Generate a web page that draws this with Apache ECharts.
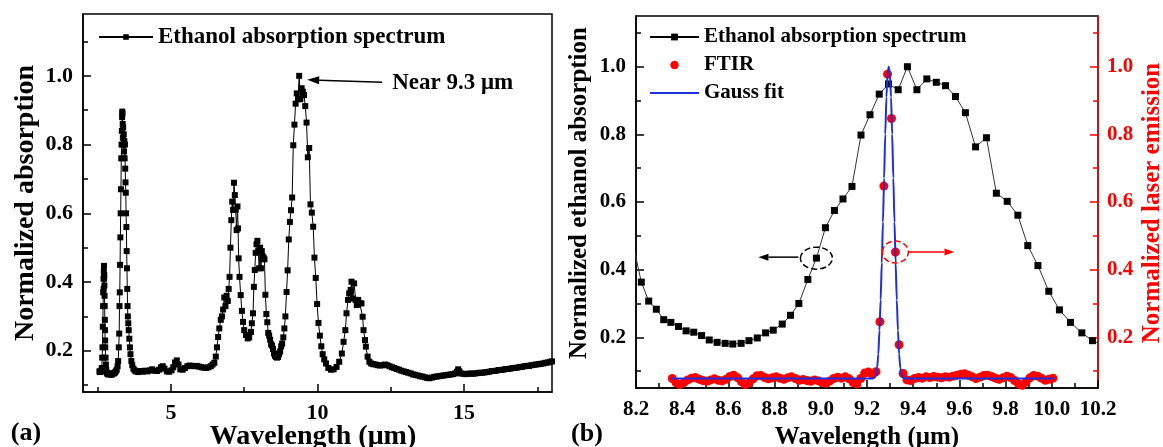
<!DOCTYPE html>
<html>
<head>
<meta charset="utf-8">
<script src="https://cdn.jsdelivr.net/npm/echarts@6/dist/echarts.min.js"></script>
<style>
  html, body { margin: 0; padding: 0; background: #fff; }
  #chart { width: 1163px; height: 447px; }
</style>
</head>
<body>
<div id="chart"></div>
<script>
// ---- Ethanol absorption spectrum (wavelength in µm, normalized absorption) ----
// 2.5–3.2 µm: O–H band and baseline
const seg1Wl  = [2.56,2.58,2.60,2.62,2.64,2.655,2.665,2.675,2.685,2.69,2.70,2.705,2.71,2.715,2.72,2.725,2.73,2.735,2.74,2.745,2.75,2.755,2.76,2.77,2.78,2.79,2.80,
                 2.82,2.85,2.88,2.91,2.94,2.97,3.00,3.03,3.06,3.09,3.12,3.15,3.18];
const seg1Abs = [0.140,0.138,0.140,0.142,0.150,0.180,0.210,0.270,0.330,0.370,0.410,0.380,0.430,0.447,0.410,0.420,0.390,0.360,0.330,0.290,0.260,0.230,0.210,0.180,0.160,0.145,0.138,
                 0.134,0.132,0.131,0.133,0.132,0.130,0.133,0.135,0.134,0.137,0.140,0.145,0.155];
// 3.2–3.8 µm: C–H stretch band
const seg2Wl  = [3.20,3.22,3.235,3.245,3.255,3.265,3.275,3.285,3.295,3.305,
                 3.315,3.325,3.335,3.34,3.345,3.355,3.36,3.37,3.38,3.39,
                 3.40,3.41,3.42,3.43,3.44,3.45,3.46,3.47,3.48,3.49,
                 3.50,3.51,3.52,3.53,3.545,3.56,3.58,3.60,3.62,3.65,
                 3.68,3.72,3.76];
const seg2Abs = [0.170,0.210,0.250,0.330,0.370,0.450,0.530,0.600,0.670,0.760,
                 0.800,0.840,0.880,0.896,0.890,0.860,0.820,0.850,0.800,0.830,
                 0.780,0.810,0.760,0.800,0.730,0.690,0.660,0.600,0.560,0.490,
                 0.440,0.380,0.330,0.300,0.280,0.260,0.235,0.210,0.190,0.170,
                 0.158,0.148,0.143];
// 3.8–6.5 µm: flat region
const seg3Wl  = [3.80,3.88,3.96,4.04,4.12,4.20,4.28,4.36,4.44,4.52,
                 4.60,4.66,4.72,4.78,4.86,4.94,5.02,5.08,5.14,5.20,
                 5.26,5.32,5.40,5.48,5.56,5.64,5.72,5.80,5.88,5.96,
                 6.04,6.12,6.20,6.28,6.36,6.42,6.48];
const seg3Abs = [0.140,0.138,0.141,0.139,0.142,0.140,0.143,0.146,0.142,0.141,
                 0.145,0.152,0.155,0.148,0.140,0.139,0.143,0.152,0.166,0.172,
                 0.160,0.146,0.145,0.150,0.155,0.157,0.156,0.155,0.156,0.154,
                 0.152,0.151,0.150,0.152,0.155,0.160,0.165];
// 6.5–8.2 µm: bending bands
const seg4Wl  = [6.53,6.57,6.61,6.65,6.70,6.74,6.78,6.82,6.86,6.90,
                 6.94,6.97,7.00,7.03,7.06,7.09,7.12,7.15,7.18,7.21,
                 7.24,7.27,7.29,7.31,7.34,7.38,7.42,7.46,7.50,7.56,
                 7.62,7.67,7.73,7.76,7.80,7.83,7.86,7.89,7.92,7.95,
                 7.98,8.01,8.04,8.07,8.10,8.13,8.16,8.19];
const seg4Abs = [0.183,0.210,0.240,0.265,0.290,0.300,0.320,0.355,0.330,0.360,
                 0.345,0.380,0.415,0.500,0.580,0.634,0.610,0.689,0.653,0.610,
                 0.551,0.620,0.556,0.469,0.415,0.362,0.316,0.284,0.260,0.246,
                 0.236,0.239,0.255,0.280,0.309,0.386,0.435,0.485,0.510,0.520,
                 0.490,0.440,0.500,0.440,0.490,0.475,0.470,0.466];
// 8.2–10.2 µm: C–O stretch band around 9.3 µm
const seg5Wl  = [8.223,8.255,8.288,8.320,8.351,8.384,8.417,8.450,8.484,8.517,
                 8.551,8.586,8.619,8.655,8.689,8.725,8.761,8.794,8.833,8.869,
                 8.905,8.944,8.981,9.020,9.059,9.096,9.135,9.174,9.213,9.253,
                 9.293,9.335,9.375,9.416,9.459,9.500,9.540,9.583,9.626,9.670,
                 9.717,9.760,9.807,9.853,9.896,9.940,9.987,10.033,10.081,10.130,
                 10.176];
const seg5Abs = [0.363,0.307,0.283,0.252,0.244,0.232,0.219,0.215,0.205,0.192,
                 0.185,0.182,0.180,0.182,0.190,0.198,0.213,0.221,0.239,0.265,
                 0.300,0.371,0.434,0.524,0.575,0.609,0.646,0.798,0.858,0.919,
                 0.949,0.932,1.000,0.932,0.964,0.954,0.944,0.912,0.864,0.763,
                 0.790,0.626,0.602,0.561,0.471,0.412,0.336,0.281,0.244,0.213,
                 0.190];
// 10.2–12.1 µm
const seg6Wl  = [10.23,10.29,10.37,10.46,10.55,10.65,10.74,10.83,10.89,10.95,
                 10.99,11.04,11.08,11.13,11.16,11.21,11.25,11.30,11.34,11.39,
                 11.44,11.50,11.54,11.57,11.62,11.65,11.71,11.77,11.83,11.90,
                 11.98,12.06];
const seg6Abs = [0.175,0.163,0.150,0.145,0.146,0.153,0.168,0.192,0.226,0.260,
                 0.309,0.348,0.367,0.377,0.401,0.352,0.396,0.348,0.333,0.348,
                 0.338,0.338,0.299,0.260,0.231,0.212,0.183,0.168,0.163,0.161,
                 0.160,0.158];
// 12.1–18 µm: long-wave tail
const seg7Wl  = [12.14,12.22,12.30,12.38,12.46,12.54,12.62,12.70,12.78,12.86,
                 12.94,13.02,13.10,13.18,13.26,13.34,13.42,13.50,13.58,13.66,
                 13.74,13.82,13.90,13.98,14.06,14.14,14.22,14.30,14.38,14.46,
                 14.54,14.62,14.70,14.76,14.80,14.84,14.90,14.98,15.06,15.14,
                 15.22,15.30,15.38,15.46,15.54,15.62,15.70,15.78,15.86,15.94,
                 16.02,16.10,16.18,16.26,16.34,16.42,16.50,16.58,16.66,16.74,
                 16.82,16.90,16.98,17.06,17.14,17.22,17.30,17.38,17.46,17.54,
                 17.62,17.70,17.78,17.86,17.94,18.00];
const seg7Abs = [0.157,0.158,0.160,0.158,0.155,0.152,0.150,0.147,0.145,0.142,
                 0.140,0.138,0.136,0.134,0.131,0.130,0.128,0.126,0.125,0.123,
                 0.121,0.120,0.122,0.124,0.125,0.126,0.127,0.128,0.129,0.130,
                 0.131,0.132,0.134,0.139,0.146,0.140,0.134,0.133,0.132,0.133,
                 0.134,0.133,0.134,0.135,0.136,0.136,0.137,0.138,0.139,0.141,
                 0.141,0.142,0.144,0.144,0.145,0.147,0.147,0.148,0.150,0.150,
                 0.151,0.153,0.153,0.155,0.156,0.156,0.158,0.159,0.160,0.161,
                 0.162,0.163,0.165,0.166,0.168,0.169];

// ---- FTIR laser emission spectrum (normalized) ----
const ftirWl = [8.357,8.374,8.390,8.407,8.424,8.440,8.457,8.474,8.490,8.507,
                8.524,8.540,8.557,8.573,8.590,8.607,8.623,8.640,8.657,8.673,
                8.690,8.707,8.723,8.740,8.757,8.773,8.790,8.807,8.823,8.840,
                8.857,8.873,8.890,8.906,8.923,8.940,8.956,8.973,8.990,9.006,
                9.023,9.040,9.056,9.073,9.090,9.106,9.123,9.140,9.156,9.173,
                9.190,9.206,9.223,9.239,9.256,9.273,9.289,9.306,9.323,9.339,
                9.356,9.373,9.389,9.406,9.423,9.439,9.456,9.473,9.489,9.506,
                9.523,9.539,9.556,9.572,9.589,9.606,9.622,9.639,9.656,9.672,
                9.689,9.706,9.722,9.739,9.756,9.772,9.789,9.806,9.822,9.839,
                9.856,9.872,9.889,9.905,9.922,9.939,9.955,9.972,9.989,10.005];
const ftirVal = [0.078,0.065,0.060,0.066,0.074,0.079,0.081,0.076,0.072,0.070,
                 0.074,0.077,0.073,0.071,0.076,0.084,0.088,0.080,0.068,0.060,
                 0.066,0.077,0.086,0.087,0.081,0.077,0.080,0.083,0.079,0.076,
                 0.080,0.083,0.078,0.073,0.075,0.072,0.070,0.074,0.071,0.066,
                 0.064,0.071,0.078,0.082,0.079,0.083,0.077,0.066,0.062,0.078,
                 0.094,0.097,0.090,0.098,0.246,0.647,0.978,0.847,0.452,0.178,
                 0.093,0.074,0.072,0.078,0.081,0.079,0.083,0.081,0.084,0.082,
                 0.080,0.083,0.082,0.085,0.088,0.091,0.092,0.088,0.083,0.078,
                 0.082,0.087,0.088,0.084,0.079,0.076,0.080,0.085,0.081,0.072,
                 0.062,0.058,0.068,0.080,0.087,0.085,0.079,0.073,0.076,0.079];

// ---- Gaussian fit of the emission line ----
const gaussWl  = [8.350,9.224,9.234,9.239,9.244,9.249,9.254,9.259,9.264,9.269,
                  9.274,9.279,9.284,9.289,9.294,9.299,9.304,9.309,9.314,9.319,
                  9.324,9.329,9.334,9.339,9.344,9.349,9.354,9.364,10.010];
const gaussVal = [0.078,0.078,0.082,0.090,0.110,0.150,0.220,0.310,0.420,0.540,
                  0.670,0.800,0.910,0.980,1.000,0.980,0.910,0.800,0.670,0.540,
                  0.420,0.310,0.220,0.150,0.110,0.090,0.082,0.078,0.078];

// ---- tick positions ----
const aXLabels  = [5, 10, 15];
const aXMinor   = [2.5, 7.5, 12.5, 17.5];
const aYLabels  = [0.2, 0.4, 0.6, 0.8, 1.0];
const aYMinor   = [0.1, 0.3, 0.5, 0.7, 0.9, 1.1];
const bXLabels  = [8.2, 8.4, 8.6, 8.8, 9.0, 9.2, 9.4, 9.6, 9.8, 10.0, 10.2];
const bXMinor   = [8.3, 8.5, 8.7, 8.9, 9.1, 9.3, 9.5, 9.7, 9.9, 10.1];
const bYLabels  = [0.2, 0.4, 0.6, 0.8, 1.0];
const bYMinor   = [0.1, 0.3, 0.5, 0.7, 0.9, 1.1];

const absWl  = [].concat(seg1Wl, seg2Wl, seg3Wl, seg4Wl, seg5Wl, seg6Wl, seg7Wl);
const absVal = [].concat(seg1Abs, seg2Abs, seg3Abs, seg4Abs, seg5Abs, seg6Abs, seg7Abs);
const pairs = (xs, ys) => xs.map((x, i) => [x, ys[i]]);

const FONT = '"Liberation Serif","Times New Roman",serif';
const RED = '#ff0000';
const BLUE = '#1f2fe0';

function mainAxis(grid, pos, min, max, ticks, color, fontSize, margin, digits) {
  return {
    type: 'value', gridIndex: grid, position: pos, min: min, max: max,
    axisLine: { show: true, onZero: false, lineStyle: { color: color, width: 1.5 } },
    axisTick: { show: true, inside: true, length: 8, customValues: ticks, lineStyle: { color: color, width: 1.5 } },
    axisLabel: {
      show: true, customValues: ticks, margin: margin, showMinLabel: true, showMaxLabel: true,
      formatter: v => Number(v).toFixed(digits),
      color: color, fontFamily: FONT, fontWeight: 'bold', fontSize: fontSize
    },
    splitLine: { show: false }
  };
}
function minorAxis(grid, pos, min, max, ticks, color) {
  return {
    type: 'value', gridIndex: grid, position: pos, min: min, max: max,
    axisLine: { show: false, onZero: false },
    axisTick: { show: true, inside: true, length: 5, customValues: ticks, lineStyle: { color: color, width: 1.5 } },
    axisLabel: { show: false },
    splitLine: { show: false }
  };
}

const chart = echarts.init(document.getElementById('chart'), null, { renderer: 'canvas' });

const option = {
  animation: false,
  backgroundColor: '#fff',
  grid: [
    { left: 83, top: 14, width: 469, height: 378, show: true, borderColor: '#000', borderWidth: 1.5,
      containLabel: false, outerBoundsMode: 'none' },
    { left: 636, top: 16, width: 462, height: 372, show: true, borderColor: '#000', borderWidth: 1.5,
      containLabel: false, outerBoundsMode: 'none' }
  ],
  xAxis: [
    mainAxis(0, 'bottom', 2, 18, aXLabels, '#000', 22, 10, 0),
    minorAxis(0, 'bottom', 2, 18, aXMinor, '#000'),
    mainAxis(1, 'bottom', 8.2, 10.2, bXLabels, '#000', 21, 11, 1),
    minorAxis(1, 'bottom', 8.2, 10.2, bXMinor, '#000')
  ],
  yAxis: [
    mainAxis(0, 'left', 0.08, 1.18, aYLabels, '#000', 22, 10, 1),
    minorAxis(0, 'left', 0.08, 1.18, aYMinor, '#000'),
    mainAxis(1, 'left', 0.05, 1.15, bYLabels, '#000', 21, 10, 1),
    minorAxis(1, 'left', 0.05, 1.15, bYMinor, '#000'),
    mainAxis(1, 'right', 0.05, 1.15, bYLabels, RED, 21, 9, 1),
    minorAxis(1, 'right', 0.05, 1.15, bYMinor, RED)
  ],
  legend: [
    {
      data: ['Ethanol absorption spectrum'],
      left: 98, top: 24, orient: 'vertical', padding: 0,
      itemWidth: 54, itemHeight: 7, itemGap: 0, selectedMode: false,
      textStyle: { fontFamily: FONT, fontWeight: 'bold', fontSize: 23, color: '#000', lineHeight: 26 }
    },
    {
      data: ['Ethanol absorption spectrum', 'FTIR', { name: 'Gauss fit', itemStyle: { opacity: 0 } }],
      left: 649, top: 26, orient: 'vertical', padding: 0,
      itemWidth: 49, itemHeight: 8.5, itemGap: 6, selectedMode: false,
      textStyle: { fontFamily: FONT, fontWeight: 'bold', fontSize: 21, color: '#000', lineHeight: 22 }
    }
  ],
  series: [
    {
      name: 'Ethanol absorption spectrum', type: 'line', xAxisIndex: 0, yAxisIndex: 0,
      data: pairs(absWl, absVal), symbol: 'rect', symbolSize: 6, showAllSymbol: true,
      itemStyle: { color: '#000' }, lineStyle: { color: '#000', width: 1 }, clip: true, z: 3
    },
    {
      name: 'Ethanol absorption spectrum', type: 'line', xAxisIndex: 2, yAxisIndex: 2,
      data: pairs(absWl, absVal), symbol: 'rect', symbolSize: 7, showAllSymbol: true,
      itemStyle: { color: '#000' }, lineStyle: { color: '#333', width: 1 }, clip: true, z: 3
    },
    {
      name: 'FTIR', type: 'scatter', xAxisIndex: 2, yAxisIndex: 4,
      data: pairs(ftirWl, ftirVal), symbol: 'circle', symbolSize: 9,
      itemStyle: { color: RED, opacity: 1 }, z: 4
    },
    {
      name: 'Gauss fit', type: 'line', xAxisIndex: 2, yAxisIndex: 4,
      data: pairs(gaussWl, gaussVal), symbol: 'none', showSymbol: false,
      smooth: 0.25, smoothMonotone: 'x',
      itemStyle: { color: BLUE }, lineStyle: { color: BLUE, width: 2 }, z: 5
    }
  ]
};
chart.setOption(option);

// ---- annotations anchored on the data ----
function arrow(x1, y1, x2, y2, color, head, half) {
  const dx = x2 - x1, dy = y2 - y1, L = Math.hypot(dx, dy), ux = dx / L, uy = dy / L;
  const bx = x2 - ux * head, by = y2 - uy * head;
  return [
    { type: 'line', shape: { x1: x1, y1: y1, x2: bx, y2: by }, style: { stroke: color, lineWidth: 1.5 }, z: 20 },
    { type: 'polygon', shape: { points: [[x2, y2], [bx - uy * half, by + ux * half], [bx + uy * half, by - ux * half]] },
      style: { fill: color }, z: 20 }
  ];
}
function text(str, x, y, size, color, rot, align) {
  return {
    type: 'text', x: x, y: y, rotation: rot || 0, z: 20,
    style: { text: str, font: 'bold ' + size + 'px ' + FONT, fill: color,
             textAlign: align || 'center', textVerticalAlign: 'middle', verticalAlign: 'middle' }
  };
}

const iPeak = absVal.indexOf(Math.max.apply(null, absVal));
const peakPx = chart.convertToPixel({ xAxisIndex: 0, yAxisIndex: 0 }, [absWl[iPeak], absVal[iPeak]]);
const tip = [peakPx[0] + 8, peakPx[1] + 4];
const tail = [tip[0] + 75, tip[1] + 2.5];

const iMarkAbs = seg5Wl.indexOf(8.981);
const markAbs = chart.convertToPixel({ xAxisIndex: 2, yAxisIndex: 2 }, [seg5Wl[iMarkAbs], seg5Abs[iMarkAbs]]);
const iMarkFtir = ftirWl.indexOf(9.323);
const markFtir = chart.convertToPixel({ xAxisIndex: 2, yAxisIndex: 4 }, [ftirWl[iMarkFtir], ftirVal[iMarkFtir]]);

const graphics = [].concat(
  arrow(tail[0], tail[1], tip[0], tip[1], '#000', 12, 4),
  [text('Near 9.3 μm', tail[0] + 10, tail[1] + 1, 23, '#000', 0, 'left')],
  [{ type: 'ellipse', shape: { cx: markAbs[0], cy: markAbs[1], rx: 16, ry: 11 }, z: 20,
     style: { fill: 'none', stroke: '#000', lineWidth: 1.5, lineDash: [6, 3] } }],
  arrow(markAbs[0] - 18, markAbs[1] - 1, markAbs[0] - 58, markAbs[1] - 1, '#000', 10, 3.5),
  [{ type: 'ellipse', shape: { cx: markFtir[0], cy: markFtir[1], rx: 13, ry: 11 }, z: 20,
     style: { fill: 'none', stroke: RED, lineWidth: 1.5, lineDash: [6, 3] } }],
  arrow(markFtir[0] + 13, markFtir[1], markFtir[0] + 59, markFtir[1], RED, 10, 3.5),
  [
    text('Normalized absorption', 26, 203, 28, '#000', Math.PI / 2),
    text('Wavelength (μm)', 313, 437, 28, '#000'),
    text('(a)', 26, 433, 26, '#000'),
    text('Normalized ethanol absorption', 580, 193, 25, '#000', Math.PI / 2),
    text('Normalized laser emission', 1153, 203, 25, RED, Math.PI / 2),
    text('Wavelength (μm)', 867, 438, 25, '#000'),
    text('(b)', 587, 434, 26, '#000')
  ]
);
chart.setOption({ graphic: graphics });
</script>
</body>
</html>
